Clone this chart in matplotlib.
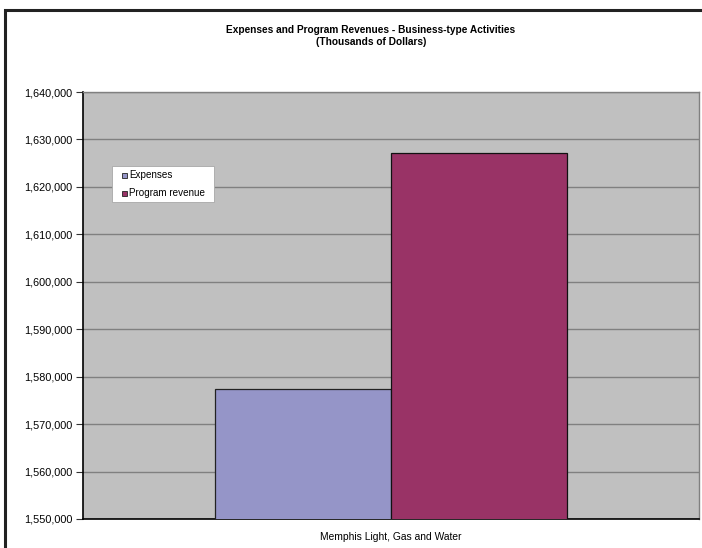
import matplotlib
matplotlib.use("Agg")
import matplotlib.pyplot as plt
from matplotlib.patches import Rectangle
from matplotlib.ticker import FuncFormatter

categories = ["Memphis Light, Gas and Water"]
series_names = ["Expenses", "Program revenue"]
expenses = [1577500]
program_revenue = [1627150]
y_ticks = [1550000, 1560000, 1570000, 1580000, 1590000, 1600000, 1610000, 1620000, 1630000, 1640000]
colors = ["#9595C8", "#993366"]

plt.rcParams['font.family'] = ['Liberation Sans', 'DejaVu Sans']

W, H = 702, 548
fig = plt.figure(figsize=(W / 100, H / 100), dpi=100)
fig.patch.set_facecolor("white")


def fx(px):
    return px / W


def fy(py):
    return 1 - py / H


# outer chart frame (left and top visible)
fig.patches.append(Rectangle((fx(5), -0.05), 1.2, (H - 10) / H + 0.05,
                             transform=fig.transFigure, fill=False,
                             edgecolor="#222222", linewidth=2.2, zorder=0))

left, right, top, bottom = 83, 699, 92, 519
ax = fig.add_axes([fx(left), fy(bottom), (right - left) / W, (bottom - top) / H])
ax.set_facecolor("#C0C0C0")

bw = 0.285
x0 = 0
ax.bar([x0 - bw / 2], expenses, width=bw, color=colors[0], edgecolor="#222222",
       linewidth=0.9, label=series_names[0], zorder=3)
ax.bar([x0 + bw / 2], program_revenue, width=bw, color=colors[1], edgecolor="#111111",
       linewidth=0.9, label=series_names[1], zorder=3)

ax.set_xlim(-0.5, 0.5)
ax.set_ylim(y_ticks[0], y_ticks[-1])
ax.set_yticks(y_ticks)
ax.yaxis.set_major_formatter(FuncFormatter(lambda v, p: f"{int(v):,}"))
ax.set_xticks([0])
ax.set_xticklabels(categories)
ax.tick_params(axis="x", length=0, labelsize=7.4, pad=9)
ax.tick_params(axis="y", length=5, width=0.8, color="#333333", labelsize=7.8, pad=2.5)
ax.grid(axis="y", color="#808080", linewidth=1.0, zorder=1)
ax.set_axisbelow(True)

for s in ["left", "bottom"]:
    ax.spines[s].set_color("black")
    ax.spines[s].set_linewidth(1.2)
for s in ["top", "right"]:
    ax.spines[s].set_color("#808080")
    ax.spines[s].set_linewidth(1.0)

# legend box drawn in figure pixel positions
lx0, ly0, lx1, ly1 = 112, 166, 214, 202
fig.patches.append(Rectangle((fx(lx0), fy(ly1)), (lx1 - lx0) / W, (ly1 - ly0) / H,
                             transform=fig.transFigure, facecolor="white",
                             edgecolor="#A8A8A8", linewidth=0.6, zorder=5))
row_y = [175.5, 193.5]
for name, col, ry in zip(series_names, colors, row_y):
    fig.patches.append(Rectangle((fx(121.5), fy(ry + 2.8)), 5.5 / W, 5.5 / H,
                                 transform=fig.transFigure, facecolor=col,
                                 edgecolor="#222222", linewidth=0.6, zorder=6))
    fig.text(fx(129), fy(ry), name, ha="left", va="center", fontsize=7.1, zorder=7)

fig.text(fx(371), fy(30), "Expenses and Program Revenues - Business-type Activities",
         ha="center", va="center", fontsize=7.3, fontweight="bold")
fig.text(fx(371), fy(42), "(Thousands of Dollars)",
         ha="center", va="center", fontsize=7.3, fontweight="bold")

fig.savefig("out.png", dpi=100)
